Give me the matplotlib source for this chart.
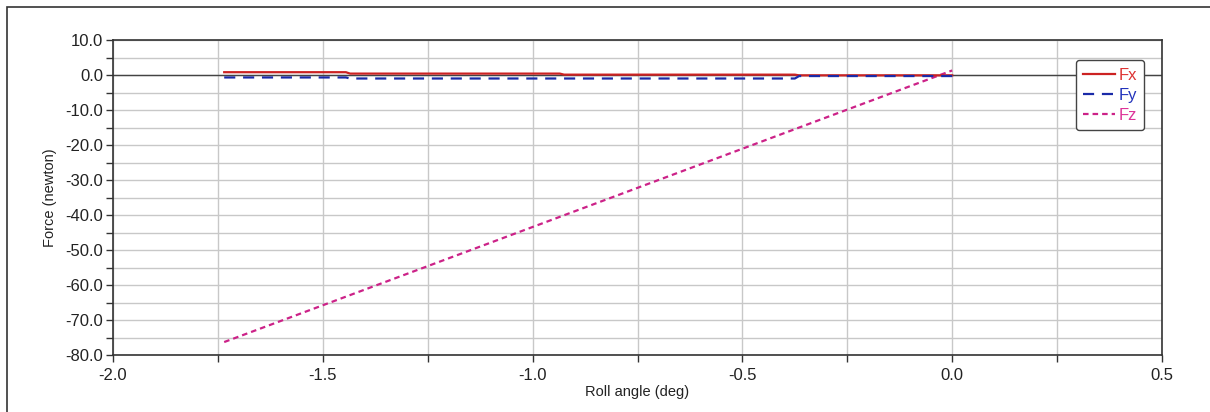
import matplotlib.pyplot as plt
from matplotlib.patches import Rectangle
from matplotlib.ticker import MultipleLocator, FormatStrFormatter

# readings (roll angle in deg, force in newton)
angle = [-1.735, -1.445, -1.435, -0.935, -0.925, -0.375, -0.365, 0.0]
fx = [0.8, 0.8, 0.4, 0.4, 0.1, 0.1, -0.1, -0.1]
fy = [-0.7, -0.7, -1.0, -1.0, -1.0, -1.0, -0.3, -0.3]
fz_angle = [-1.735, 0.0]
fz = [-76.3, 1.3]

plt.rcParams['font.family'] = ['Liberation Sans', 'DejaVu Sans']

fig = plt.figure(figsize=(12.1, 4.12), dpi=100)
# outer frame of the chart control
fig.patches.append(Rectangle((7 / 1210, -0.1), 1.2, 1 - 7 / 412 + 0.1,
                             transform=fig.transFigure, fill=False,
                             edgecolor='#333333', lw=1.2))

ax = fig.add_axes([113 / 1210, 1 - 355 / 412, 1049 / 1210, 315 / 412])

ax.plot(angle, fx, color='#cc2222', lw=1.6, label='Fx', zorder=4)
ax.plot(angle, fy, color='#1a2aa8', lw=1.6, ls=(0, (5, 3.5)), label='Fy', zorder=5)
ax.plot(fz_angle, fz, color='#cc2288', lw=1.6, ls=(0, (2.5, 1.8)), label='Fz', zorder=3)

ax.axhline(0, color='#444444', lw=1, zorder=2)

ax.set_xlim(-2.0, 0.5)
ax.set_ylim(-80, 10)
ax.xaxis.set_major_locator(MultipleLocator(0.5))
ax.xaxis.set_minor_locator(MultipleLocator(0.25))
ax.yaxis.set_major_locator(MultipleLocator(10))
ax.yaxis.set_minor_locator(MultipleLocator(5))
ax.xaxis.set_major_formatter(FormatStrFormatter('%.1f'))
ax.yaxis.set_major_formatter(FormatStrFormatter('%.1f'))
ax.grid(True, which='both', color='#c8c8c8', lw=1, zorder=0)
ax.set_axisbelow(True)

ax.tick_params(which='both', direction='out', length=5, width=1, color='#333333',
               labelsize=12, labelcolor='#222222')
ax.tick_params(axis='y', pad=2)
ax.tick_params(axis='x', pad=4)
for s in ax.spines.values():
    s.set_color('#333333')
    s.set_linewidth(1.2)

ax.set_xlabel('Roll angle (deg)', fontsize=10.5, color='#222222', labelpad=2)
ax.set_ylabel('Force (newton)', fontsize=10.5, color='#222222', labelpad=6)

leg = ax.legend(loc='upper right', bbox_to_anchor=(0.983, 0.9365), fontsize=12,
                borderaxespad=0, handlelength=1.9, handletextpad=0.2,
                borderpad=0.45, labelspacing=0.3, fancybox=True, framealpha=1,
                edgecolor='#444444')
for t, c in zip(leg.get_texts(), ['#dd3333', '#2233bb', '#dd3399']):
    t.set_color(c)

fig.savefig('out.png', dpi=100)
